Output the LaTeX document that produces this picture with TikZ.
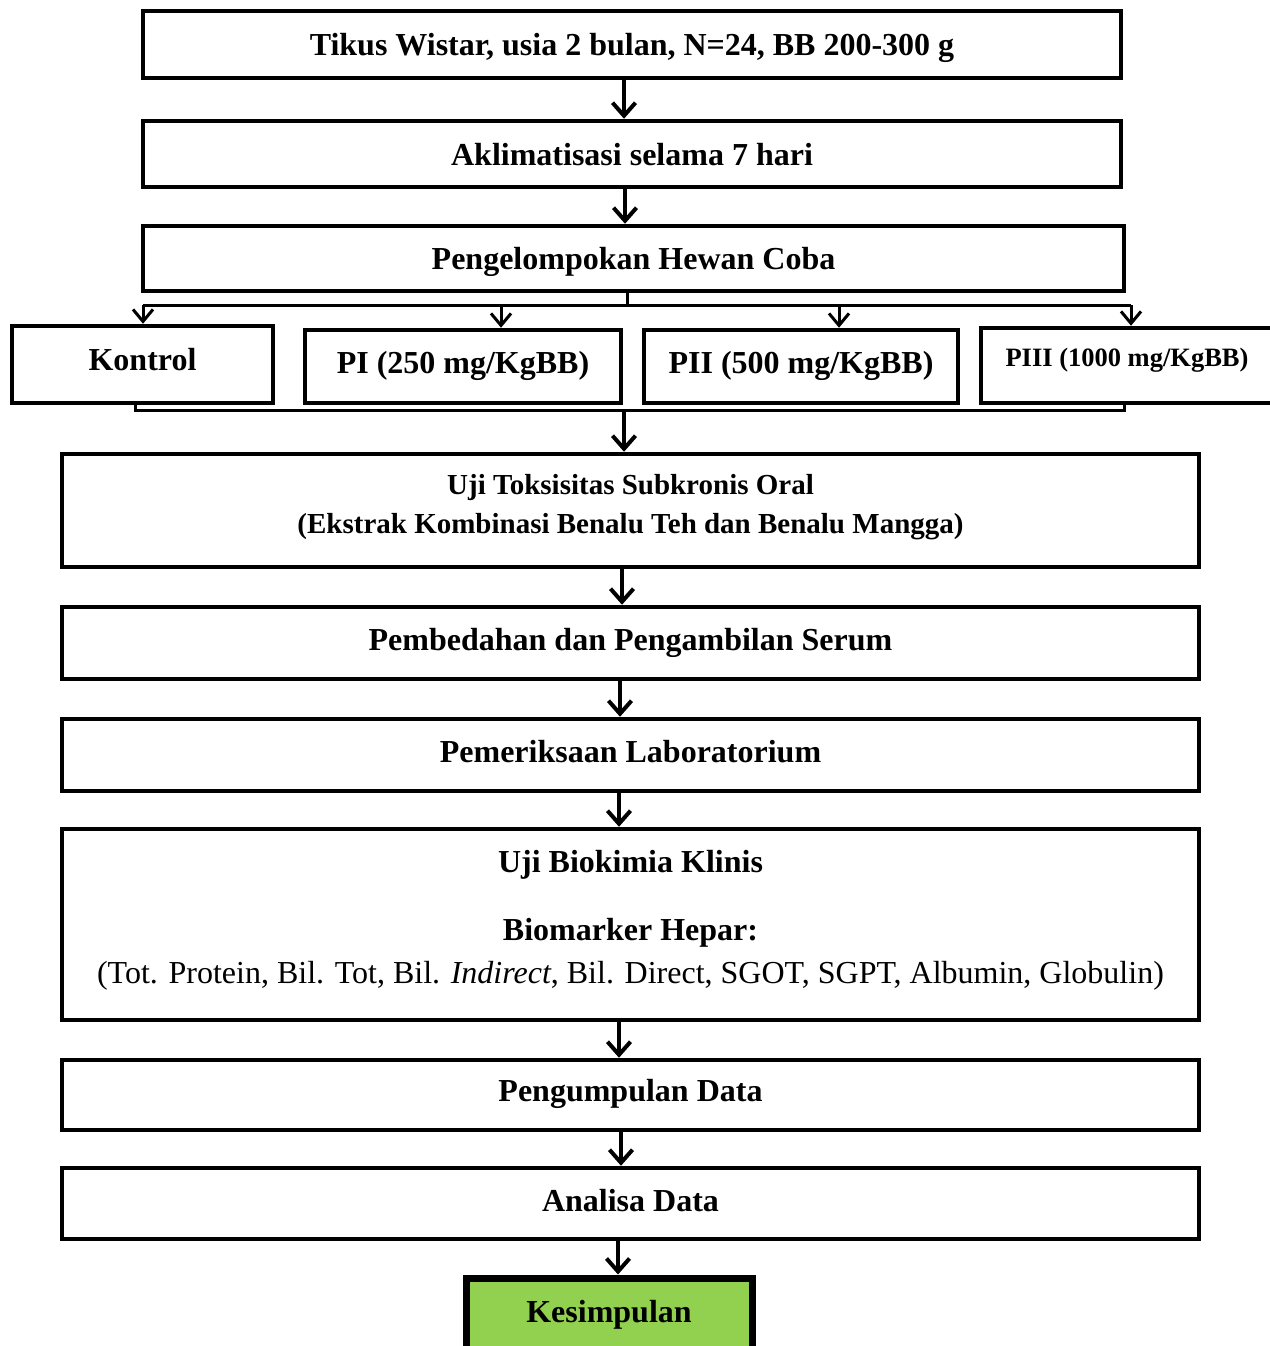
\documentclass[tikz,border=0pt]{standalone}
\usepackage{fontspec}
\setmainfont{Liberation Serif}
\usetikzlibrary{arrows.meta}
\newcommand\liftt[2]{\raisebox{#1}[\height][\depth]{#2}}
\newcommand\blk[2]{\raisebox{#1}[\height][\depth]{\begin{tabular}{@{}c@{}}#2\end{tabular}}}
\definecolor{kgreen}{HTML}{92D050}
\begin{document}
\begin{tikzpicture}[x=1pt,y=-1pt,
  box/.style={draw, line width=4.5pt, rectangle, inner sep=0pt, align=center,
    font=\bfseries\fontsize{32}{39}\selectfont},
  arr/.style={line width=4pt, -{Straight Barb[length=13pt,width=23pt]}},
  barr/.style={line width=3pt, -{Straight Barb[length=12pt,width=20pt]}},
  bus/.style={line width=3pt}]
\useasboundingbox (0,0) rectangle (1269,1346);

\node[box, minimum width=978pt, minimum height=67pt] (t) at (632,44.5) {\liftt{-3pt}{Tikus Wistar, usia 2 bulan, N=24, BB 200-300 g}};
\node[box, minimum width=978pt, minimum height=66pt] (a) at (632,154) {\liftt{-1pt}{Aklimatisasi selama 7 hari}};
\node[box, minimum width=981pt, minimum height=65pt] (g) at (633.5,258.5) {\liftt{-3pt}{Pengelompokan Hewan Coba}};

\node[box, minimum width=261pt, minimum height=77pt] (k) at (142.5,364.5) {\liftt{5pt}{Kontrol}};
\node[box, minimum width=316pt, minimum height=73pt] (p1) at (463,366.5) {\liftt{1pt}{PI (250 mg/KgBB)}};
\node[box, minimum width=314pt, minimum height=73pt] (p2) at (801,366.5) {\liftt{1pt}{PII (500 mg/KgBB)}};
\node[box, minimum width=292pt, minimum height=75pt, font=\bfseries\fontsize{26.5}{32}\selectfont] (p3) at (1127,365.5) {\liftt{5pt}{PIII (1000 mg/KgBB)}};

\node[box, minimum width=1137pt, minimum height=113pt, font=\bfseries\fontsize{29}{39}\selectfont] (u) at (630.5,510.5)
  {\blk{4pt}{Uji Toksisitas Subkronis Oral\\(Ekstrak Kombinasi Benalu Teh dan Benalu Mangga)}};
\node[box, minimum width=1137pt, minimum height=72pt] (pb) at (630.5,643) {\liftt{0pt}{Pembedahan dan Pengambilan Serum}};
\node[box, minimum width=1137pt, minimum height=72pt] (pm) at (630.5,755) {\liftt{3pt}{Pemeriksaan Laboratorium}};
\node[box, minimum width=1137pt, minimum height=191pt, font=\bfseries\fontsize{32}{43}\selectfont] (bk) at (630.5,924.5)
  {\blk{5pt}{Uji Biokimia Klinis\\[25pt] Biomarker Hepar:\\ \mdseries(Tot. Protein, Bil. Tot, Bil. \textit{Indirect}, Bil. Direct, SGOT, SGPT, Albumin, Globulin)}};
\node[box, minimum width=1137pt, minimum height=70pt] (pg) at (630.5,1095) {\liftt{1pt}{Pengumpulan Data}};
\node[box, minimum width=1137pt, minimum height=71pt] (an) at (630.5,1203.5) {\liftt{3pt}{Analisa Data}};
\node[box, line width=7pt, fill=kgreen, minimum width=286pt, minimum height=74pt] (ks) at (609,1315) {\liftt{0pt}{Kesimpulan}};

% main arrows
\draw[arr] ([xshift=-8pt]t.south) -- ([xshift=-8pt]t.south |- a.north);
\draw[arr] ([xshift=-7pt]a.south) -- ([xshift=-7pt]a.south |- g.north);

% branching bus
\coordinate (bus) at (627,305);
\coordinate (bk0) at (143,305);
\coordinate (bp1) at (501,305);
\coordinate (bp2) at (839,305);
\coordinate (bp3) at (1131,305);
\draw[bus] (g.south -| bus) -- (bus);
\draw[bus] (bk0) -- (bp3);
\draw[barr] (bk0) -- (bk0 |- k.north);
\draw[barr] (bp1) -- (bp1 |- p1.north);
\draw[barr] (bp2) -- (bp2 |- p2.north);
\draw[barr] (bp3) -- (bp3 |- p3.north);

% joining bus
\coordinate (jl) at (135,410);
\coordinate (jr) at (1124,410);
\coordinate (jm) at (624,410);
\draw[bus] (k.south -| jl) -- (jl) -- (jr) -- (p3.south -| jr);
\draw[arr] (jm) -- (jm |- u.north);

\draw[arr] ([xshift=-8.5pt]u.south) -- ([xshift=-8.5pt]u.south |- pb.north);
\draw[arr] ([xshift=-10.5pt]pb.south) -- ([xshift=-10.5pt]pb.south |- pm.north);
\draw[arr] ([xshift=-11.5pt]pm.south) -- ([xshift=-11.5pt]pm.south |- bk.north);
\draw[arr] ([xshift=-11.5pt]bk.south) -- ([xshift=-11.5pt]bk.south |- pg.north);
\draw[arr] ([xshift=-9.5pt]pg.south) -- ([xshift=-9.5pt]pg.south |- an.north);
\draw[arr] ([xshift=-12.5pt]an.south) -- ([xshift=-12.5pt]an.south |- ks.north);
\end{tikzpicture}
\end{document}
